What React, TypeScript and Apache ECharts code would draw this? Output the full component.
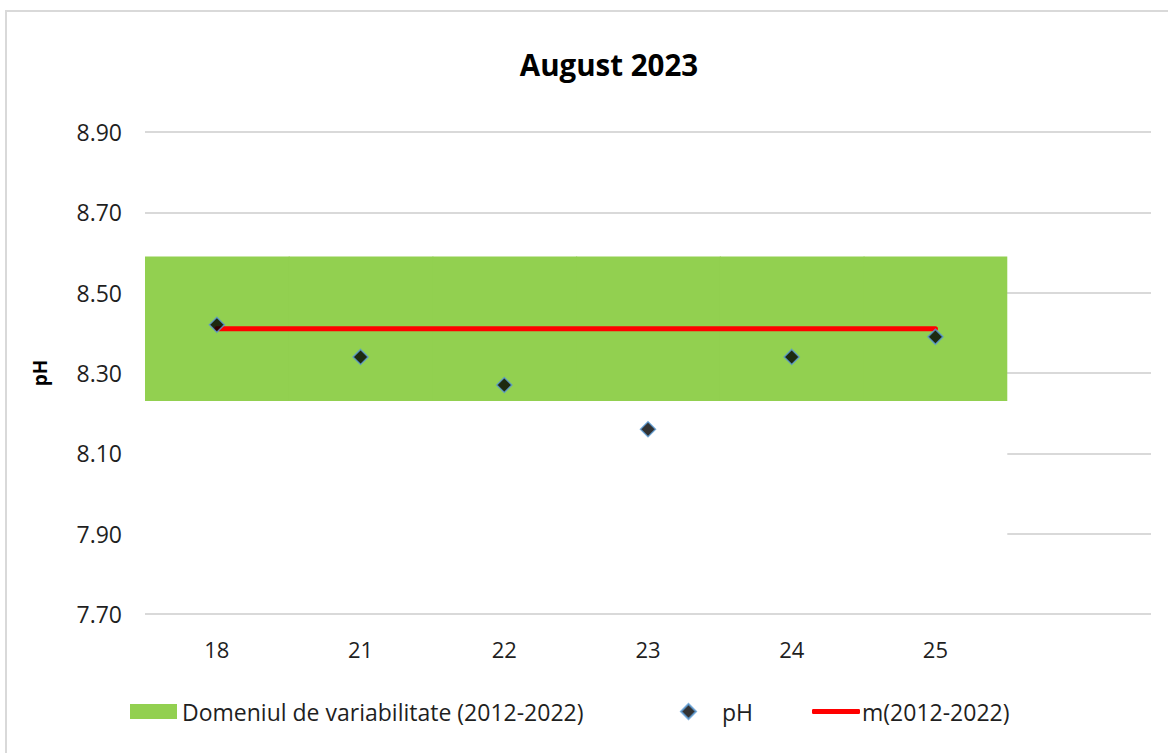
import React, { useEffect, useRef } from "react";
import * as echarts from "echarts";

const categories = ["18", "21", "22", "23", "24", "25", ""];
const rangeLow = [8.23, 8.23, 8.23, 8.23, 8.23, 8.23];
const rangeHigh = [8.59, 8.59, 8.59, 8.59, 8.59, 8.59];
const meanValues = [8.41, 8.41, 8.41, 8.41, 8.41, 8.41];
const phValues = [8.42, 8.34, 8.27, 8.16, 8.34, 8.39];
const yTicks = { min: 7.7, max: 8.9, interval: 0.2 };

const NAME_RANGE = "Domeniul de variabilitate (2012-2022)";
const NAME_PH = "pH";
const NAME_MEAN = "m(2012-2022)";
const FONT = "'Open Sans', 'Noto Sans', sans-serif";
const TXT = "#1f1f1f";

export default function App() {
  const ref = useRef<HTMLDivElement>(null);
  useEffect(() => {
    if (!ref.current) return;
    const chart = echarts.init(ref.current, null, { renderer: "svg" });
    const rangeData = rangeLow.map((lo, i) => [i, lo, rangeHigh[i]]);
    const coverData = rangeLow.map((lo, i) => [i, yTicks.min, lo]);
    const rectRender = (pad: number) => (params: any, api: any) => {
      const x = api.value(0);
      const lo = api.value(1);
      const hi = api.value(2);
      const pHi = api.coord([x, hi]);
      const pLo = api.coord([x, lo]);
      const w = api.size([1, 0])[0];
      const last = params.dataIndex === params.dataInsideLength - 1;
      return {
        type: "rect",
        shape: {
          x: pHi[0] - w / 2,
          y: pHi[1],
          width: w + (last ? 0 : 1),
          height: pLo[1] - pHi[1] - pad,
        },
        style: { fill: api.visual("color") },
      };
    };
    const legendBase = {
      orient: "horizontal",
      top: 695,
      textStyle: { fontFamily: FONT, fontSize: 23, color: TXT },
      selectedMode: false,
    };
    chart.setOption({
      animation: false,
      backgroundColor: "#ffffff",
      title: {
        text: "August 2023",
        left: 604,
        top: 44,
        textAlign: "center",
        textStyle: { fontFamily: FONT, fontSize: 29.5, fontWeight: "bold", color: "#000" },
      },
      graphic: [
        {
          type: "rect",
          shape: { x: 6, y: 11, width: 1180, height: 760 },
          style: { fill: "none", stroke: "#d9d9d9", lineWidth: 2 },
          silent: true,
          z: 100,
        },
      ],
      grid: { left: 145, right: 17, top: 132, bottom: 139, containLabel: false },
      xAxis: {
        type: "category",
        data: categories,
        boundaryGap: true,
        axisLine: { show: false },
        axisTick: { show: false },
        axisLabel: { fontFamily: FONT, fontSize: 22, color: TXT, margin: 24 },
        splitLine: { show: false },
      },
      yAxis: {
        type: "value",
        min: yTicks.min,
        max: yTicks.max,
        interval: yTicks.interval,
        name: "pH",
        nameLocation: "middle",
        nameGap: 96,
        nameRotate: 90,
        nameTextStyle: { fontFamily: FONT, fontSize: 19, fontWeight: "bold", color: "#000" },
        axisLine: { show: false },
        axisTick: { show: false },
        axisLabel: {
          fontFamily: FONT,
          fontSize: 23,
          color: TXT,
          margin: 23,
          formatter: (v: number) => v.toFixed(2),
        },
        splitLine: { show: true, lineStyle: { color: "#d9d9d9", width: 2 } },
      },
      legend: [
        {
          ...legendBase,
          left: 125,
          itemWidth: 47,
          itemHeight: 15,
          data: [{ name: NAME_RANGE, icon: "rect" }],
        },
        {
          ...legendBase,
          left: 675,
          itemWidth: 15,
          itemHeight: 15,
          textStyle: { ...legendBase.textStyle, padding: [0, 0, 0, 21] },
          data: [{ name: NAME_PH, icon: "diamond" }],
        },
        {
          ...legendBase,
          left: 807,
          itemWidth: 48,
          itemHeight: 5,
          textStyle: { ...legendBase.textStyle, padding: [0, 0, 0, -3] },
          data: [{ name: NAME_MEAN, icon: "roundRect", itemStyle: { color: "#ff0000" } }],
        },
      ],
      series: [
        {
          name: "cover",
          type: "custom",
          renderItem: rectRender(1.5),
          data: coverData,
          encode: { x: 0, y: [1, 2] },
          itemStyle: { color: "#ffffff" },
          z: 1,
          silent: true,
        },
        {
          name: NAME_RANGE,
          type: "custom",
          renderItem: rectRender(0),
          data: rangeData,
          encode: { x: 0, y: [1, 2] },
          itemStyle: { color: "#92d050" },
          z: 1,
        },
        {
          name: NAME_MEAN,
          type: "line",
          data: meanValues,
          symbol: "none",
          itemStyle: { color: "#ff0000" },
          lineStyle: { color: "#ff0000", width: 5, cap: "round" },
          z: 3,
        },
        {
          name: NAME_PH,
          type: "scatter",
          data: phValues,
          symbol: "diamond",
          symbolSize: 15,
          itemStyle: { color: "#000000", borderColor: "#5b9bd5", borderWidth: 1.5 },
          z: 4,
        },
      ],
    });
    return () => chart.dispose();
  }, []);
  return (
    <div
      ref={ref}
      style={{ position: "fixed", left: 0, top: 0, width: 1168, height: 753, background: "#fff" }}
    />
  );
}
